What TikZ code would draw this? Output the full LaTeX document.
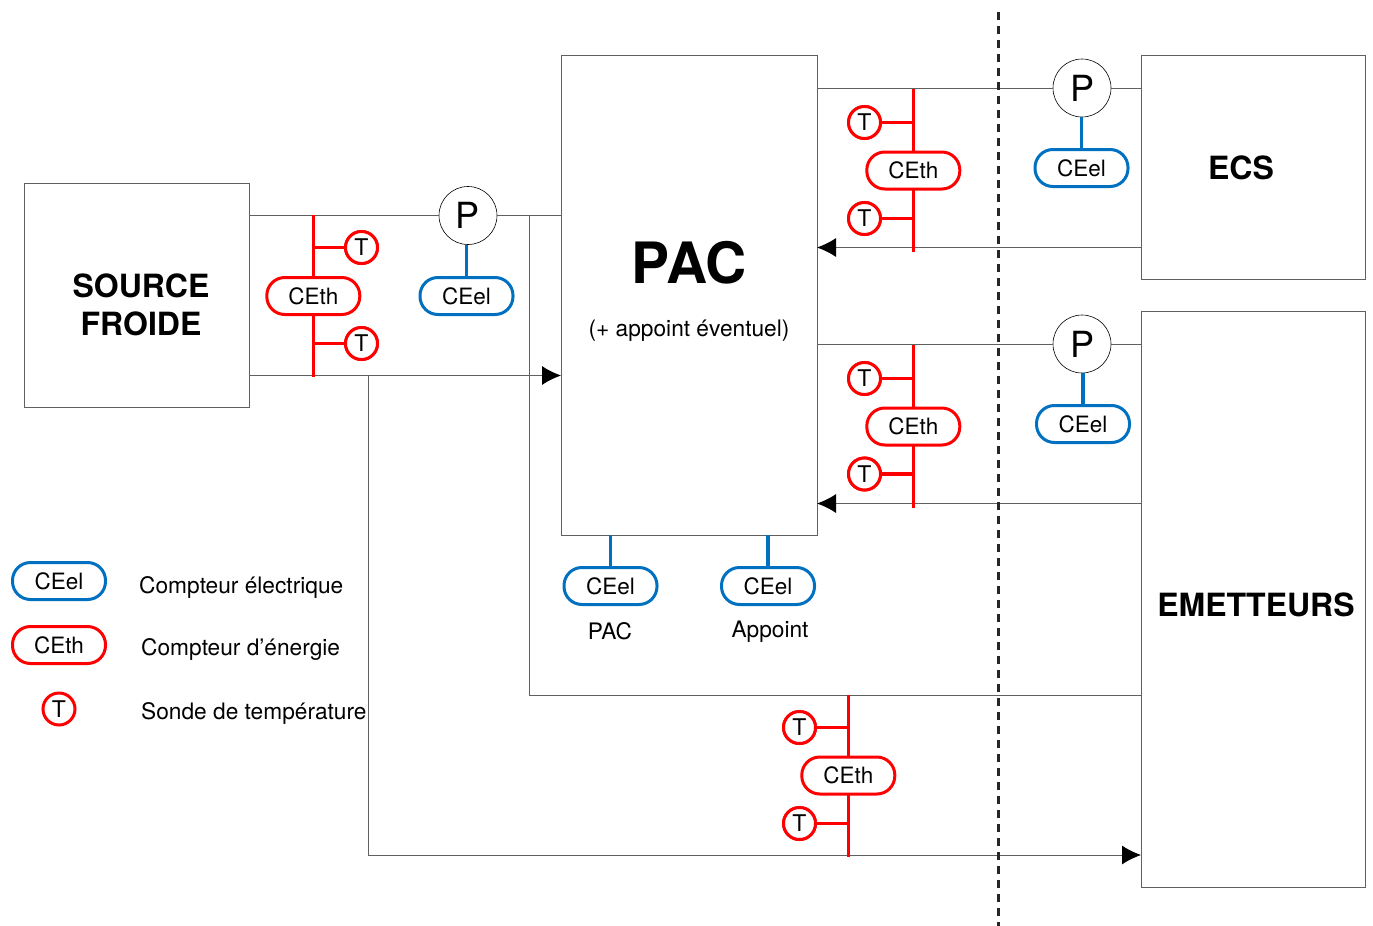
\documentclass[tikz,border=0pt]{standalone}
\usepackage{fontspec}
\setmainfont{TeX Gyre Heros}
\usetikzlibrary{arrows.meta,calc}
\definecolor{meterblue}{HTML}{0070C0}
\definecolor{linegray}{HTML}{606060}
\tikzset{
  x=1pt,y=-1pt,
  bloc/.style={draw=linegray,line width=0.9pt,fill=white,inner sep=0pt,outer sep=0pt},
  pipe/.style={draw=linegray,line width=0.9pt},
  flow/.style={pipe,-{Latex[length=19pt,width=19pt,color=black]}},
  pill/.style={rounded rectangle,line width=3pt,fill=white,minimum width=93pt,minimum height=37pt,inner sep=0pt,font=\fontsize{22.5}{26}\selectfont},
  rounded rectangle/.style={draw,rounded corners=18pt,rectangle},
  ceth/.style={pill,draw=red},
  ceel/.style={pill,draw=meterblue},
  sonde/.style={circle,draw=red,line width=3pt,fill=white,minimum size=32pt,inner sep=0pt,font=\fontsize{23}{26}\selectfont},
  pompe/.style={circle,draw=black,line width=0.6pt,fill=white,minimum size=58pt,inner sep=0pt,font=\fontsize{36}{38}\selectfont},
  redline/.style={draw=red,line width=3.1pt},
  blueline/.style={draw=meterblue,line width=3.4pt},
  label/.style={inner sep=0pt,font=\fontsize{22.7}{26}\selectfont},
  leglabel/.style={label,anchor=west},
  title/.style={inner sep=0pt,align=center,font=\bfseries\fontsize{32}{37.5}\selectfont},
}
% meter group: prefix, bar x, bar top y, centre y, bar bottom y, sonde x, sonde y1, sonde y2
\newcommand{\metergroup}[8]{%
  \coordinate (#1top) at (#2,#3);
  \coordinate (#1bot) at (#2,#5);
  \node[sonde] (#1ta) at (#6,#7) {T};
  \node[sonde] (#1tb) at (#6,#8) {T};
  \draw[redline] (#1top) -- (#1bot);
  \draw[redline] (#1ta) -- (#1ta -| #1top);
  \draw[redline] (#1tb) -- (#1tb -| #1top);
  \node[sonde] at (#6,#7) {T};
  \node[sonde] at (#6,#8) {T};
  \node[ceth] (#1m) at (#2,#4) {CEth};
}
\begin{document}
\begin{tikzpicture}
\useasboundingbox (0,0) rectangle (1373,926);
% blocks
\node[bloc,minimum width=225pt,minimum height=224pt] (source) at (136.5,295) {};
\node[title] at (141,305) {SOURCE\\FROIDE};
\node[bloc,minimum width=256pt,minimum height=480pt] (pac) at (689,295) {};
\node[inner sep=0pt,font=\bfseries\fontsize{57}{60}\selectfont] (pactitle) at (689,263) {PAC};
\node[label] (pacsub) at (689,331) {(+ appoint éventuel)};
\node[bloc,minimum width=224pt,minimum height=224pt] (ecs) at (1253,167) {};
\node[title] at (1241,168) {ECS};
\node[bloc,minimum width=224pt,minimum height=576pt] (emet) at (1253,599) {};
\node[title] at (1256,605) {EMETTEURS};
% pumps
\node[pompe] (p1) at (468,215.5) {P};
\node[pompe] (p2) at (1082,88) {P};
\node[pompe] (p3) at (1082,344) {P};
% junction coordinates
\coordinate (ret) at (249,375.5);
\coordinate (j1) at (529,215.5);
\coordinate (j2) at (529,695.5);
\coordinate (j3) at (368.5,375.5);
\coordinate (j4) at (368.5,855);
\coordinate (y2) at (0,247.5);
\coordinate (y4) at (0,503.5);
% pipes
\draw[pipe] (source.east |- p1) -- (p1.west);
\draw[pipe] (p1.east) -- (pac.west |- p1);
\draw[flow] (ret) -- (pac.west |- ret);
\draw[pipe] (pac.east |- p2) -- (p2.west);
\draw[pipe] (p2.east) -- (ecs.west |- p2);
\draw[flow] (ecs.west |- y2) -- (pac.east |- y2);
\draw[pipe] (pac.east |- p3) -- (p3.west);
\draw[pipe] (p3.east) -- (emet.west |- p3);
\draw[flow] (emet.west |- y4) -- (pac.east |- y4);
\draw[pipe] (j1) -- (j2) -- (emet.west |- j2);
\draw[flow] (j3) -- (j4) -- (emet.west |- j4);
% frontier
\coordinate (fa) at (998,12);
\coordinate (fb) at (998,926);
\draw[black!85,line width=3pt,dash pattern=on 8pt off 6pt] (fa) -- (fb);
% thermal meters
\metergroup{a}{313.3}{215}{296}{377}{361.5}{247.5}{343.5}
\metergroup{b}{913.3}{89}{170.5}{252}{864.5}{122.5}{218.5}
\metergroup{c}{913.3}{345}{426.5}{508}{864.5}{378.5}{474}
\metergroup{d}{848.3}{695}{775.5}{857}{799.5}{727.5}{823.5}
% electric meters
\node[ceel] (e1) at (466.5,296) {CEel};
\draw[blueline] (e1.north) -- (e1.north |- p1.south);
\node[ceel] (e2) at (1081.5,168) {CEel};
\draw[blueline] (e2.north) -- (e2.north |- p2.south);
\node[ceel] (e3) at (1083,424) {CEel};
\draw[blueline] (e3.north) -- (e3.north |- p3.south);
\node[ceel] (e4) at (610.5,586) {CEel};
\draw[blueline] (e4.north) -- (e4.north |- pac.south);
\node[ceel] (e5) at (768,586) {CEel};
\draw[blueline] (e5.north) -- (e5.north |- pac.south);
\node[label] (l4) at (610,631.5) {PAC};
\node[label] (l5) at (770,632) {Appoint};
% legend
\node[ceel] (k1) at (59,581) {CEel};
\node[ceth] (k2) at (59,645) {CEth};
\node[sonde] (k3) at (59,709) {T};
\node[leglabel] (t1) at (139,587) {Compteur électrique};
\node[leglabel] (t2) at (141,649) {Compteur d’énergie};
\node[leglabel] (t3) at (141,713) {Sonde de température};
\end{tikzpicture}
\end{document}
